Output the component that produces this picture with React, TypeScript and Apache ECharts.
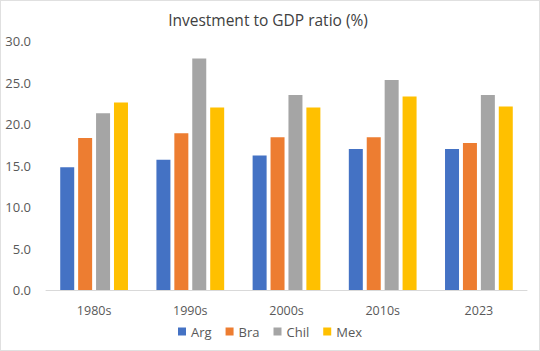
import React, { useEffect, useRef } from "react";
import * as echarts from "echarts";

const categories = ["1980s", "1990s", "2000s", "2010s", "2023"];
const seriesNames = ["Arg", "Bra", "Chil", "Mex"];
const arg = [14.8, 15.7, 16.2, 17.0, 17.0];
const bra = [18.3, 18.9, 18.4, 18.4, 17.7];
const chil = [21.3, 27.9, 23.5, 25.3, 23.5];
const mex = [22.6, 22.0, 22.0, 23.3, 22.1];
const colors = ["#4472C4", "#ED7D31", "#A5A5A5", "#FFC000"];

export default function App() {
  const ref = useRef<HTMLDivElement>(null);
  useEffect(() => {
    document.body.style.margin = "0";
    const chart = echarts.init(ref.current!, null, { renderer: "svg" });
    const values = [arg, bra, chil, mex];
    chart.setOption({
      animation: false,
      backgroundColor: "#ffffff",
      textStyle: { fontFamily: "Open Sans, Noto Sans, sans-serif" },
      title: {
        text: "Investment to GDP ratio (%)",
        left: 262,
        textAlign: "center",
        top: 6,
        textStyle: { fontSize: 15.5, fontWeight: "normal", color: "#404040" },
      },
      legend: {
        bottom: 7,
        left: "center",
        itemWidth: 8,
        itemHeight: 8,
        itemGap: 14,
        icon: "rect",
        textStyle: { fontSize: 13, color: "#595959" },
        data: seriesNames,
      },
      grid: { left: 45, right: 12, top: 40, bottom: 60 },
      xAxis: {
        type: "category",
        data: categories,
        axisLine: { lineStyle: { color: "#D9D9D9" } },
        axisTick: { show: false },
        axisLabel: { color: "#595959", fontSize: 12.5, margin: 14 },
      },
      yAxis: {
        type: "value",
        min: 0,
        max: 30,
        interval: 5,
        splitLine: { show: false },
        axisLine: { show: false },
        axisTick: { show: false },
        axisLabel: {
          color: "#595959",
          fontSize: 13,
          margin: 15,
          formatter: (v: number) => v.toFixed(1),
        },
      },
      series: seriesNames.map((name, i) => ({
        name,
        type: "bar",
        data: values[i],
        barWidth: 14,
        barGap: "28%",
        itemStyle: { color: colors[i] },
      })),
    });
    return () => chart.dispose();
  }, []);
  return (
    <div
      ref={ref}
      style={{
        position: "absolute",
        left: 0,
        top: 0,
        width: 540,
        height: 351,
        boxSizing: "border-box",
        border: "1px solid #E0E0E0",
      }}
    />
  );
}
